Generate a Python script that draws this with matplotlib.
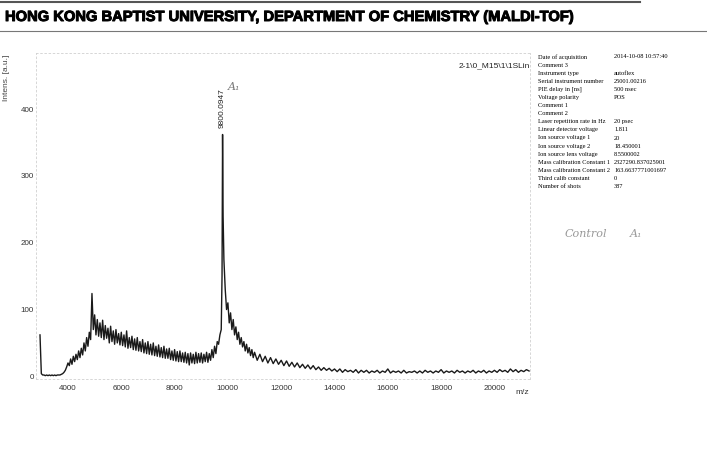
import numpy as np
import matplotlib
matplotlib.use("Agg")
import matplotlib.pyplot as plt
import matplotlib.patheffects as pe
from matplotlib.lines import Line2D

# spectrum (m/z, intensity a.u.)
mz_start = np.arange(2950, 3801, 50)
int_start = [62, 4, 2, 2, 1, 2, 1, 2, 1, 2, 1, 2, 1, 2, 2, 2, 3, 4]

mz_rise = np.arange(3850, 4951, 50)
int_rise = [6, 9, 14, 20, 16, 26, 18, 30, 22, 33, 25, 38, 28, 42, 32, 50, 38,
            58, 45, 66, 55, 124, 70]

mz_body = np.arange(5000, 9751, 50)
int_body = [92, 62, 85, 60, 80, 58, 84, 55, 76, 57,
            72, 50, 75, 52, 68, 48, 70, 50, 64, 47,
            66, 46, 62, 44, 68, 42, 58, 43, 60, 40,
            56, 39, 58, 38, 52, 37, 55, 35, 50, 34,
            52, 33, 48, 32, 50, 31, 45, 30, 47, 29,
            43, 28, 45, 27, 41, 27, 42, 25, 38, 24,
            40, 23, 37, 22, 38, 22, 35, 21, 36, 20,
            34, 17, 35, 20, 33, 19, 36, 20, 34, 21,
            35, 20, 33, 22, 36, 21, 34, 24, 40, 28,
            45, 34, 52, 48, 62, 70]

mz_peak = [9780, 9800, 9820]
int_peak = [150, 362, 240]

mz_tail = np.arange(9850, 11001, 50)
int_tail = [175, 130, 100, 110, 80, 95, 70, 85, 62, 74, 55, 66, 48, 58, 44,
            52, 38, 48, 35, 43, 31, 40, 28, 36]

mz_high = np.arange(11100, 21301, 100)
int_high = [24, 33, 22, 30, 20, 28, 19, 26, 18, 24,
            16, 23, 15, 21, 14, 20, 13, 18, 12, 17,
            11, 16, 10, 14, 9, 13, 9, 12, 8, 11,
            7, 11, 6, 10, 7, 9, 6, 10, 5, 9,
            6, 9, 5, 8, 6, 9, 5, 8, 6, 11,
            5, 8, 6, 8, 5, 9, 5, 7, 6, 8,
            5, 8, 5, 9, 6, 8, 5, 8, 6, 10,
            5, 8, 6, 8, 5, 9, 6, 8, 5, 8,
            6, 9, 5, 8, 6, 9, 5, 8, 6, 9,
            6, 10, 7, 9, 6, 11, 7, 10, 6, 9,
            7, 10, 8]

peak_label = "9800.0947"
x_ticks = [4000, 6000, 8000, 10000, 12000, 14000, 16000, 18000, 20000]
y_ticks = [0, 100, 200, 300, 400]

info_keys = ["Date of acquisition", "Comment 3", "Instrument type",
             "Serial instrument number", "PIE delay in [ns]", "Voltage polarity",
             "Comment 1", "Comment 2", "Laser repetition rate in Hz",
             "Linear detector voltage", "Ion source voltage 1",
             "Ion source voltage 2", "Ion source lens voltage",
             "Mass calibration Constant 1", "Mass calibration Constant 2",
             "Third calib constant", "Number of shots"]
info_vals = ["2014-10-08 10:57:40", "", "autoflex", "25001.00216", "500 nsec",
             "POS", "", "", "20 psec", "1.811", "20", "18.450001", "8.5500002",
             "2327290.837025901", "163.6637771001697", "0", "387"]

mz = np.concatenate([mz_start, mz_rise, mz_body, mz_peak, mz_tail, mz_high])
intens = np.concatenate([int_start, int_rise, int_body, int_peak, int_tail, int_high])

plt.rcParams["font.family"] = ["Liberation Sans", "DejaVu Sans"]

fig = plt.figure(figsize=(7.07, 4.53), dpi=100)
ax = fig.add_axes([36 / 707, 1 - 379 / 453, (530 - 36) / 707, (379 - 53) / 453])

ax.plot(mz, intens, color="#1a1a1a", lw=1.0)
ax.set_xlim(2800, 21335)
ax.set_ylim(-4, 484)
ax.set_xticks(x_ticks)
ax.set_yticks(y_ticks)
ax.tick_params(labelsize=5.8, length=0, colors="#333333")
ax.tick_params(axis="y", pad=1.5)
ax.tick_params(axis="x", pad=4)
for s in ax.spines.values():
    s.set_linestyle((0, (2, 3)))
    s.set_color("#d0d0d0")
    s.set_linewidth(0.6)

ax.text(9800, 372, peak_label, rotation=90, ha="center", va="bottom",
        fontsize=6, color="#222222")
fig.text(3 / 707, 1 - 55 / 453, "Intens. [a.u.]", rotation=90,
         ha="left", va="top", fontsize=6, color="#444444")
ax.text(1.0, 0.96, "2-1\\0_M15\\1\\1SLin", transform=ax.transAxes,
        ha="right", va="center", fontsize=6, color="#222222")
fig.text(522 / 707, 1 - 393 / 453, "m/z", ha="center", va="center",
         fontsize=6, color="#333333")

# handwritten notes on the printout
ax.text(10000, 428, "A₁", fontsize=8, color="#777777", style="italic",
        family="DejaVu Serif")
fig.text(565 / 707, 1 - 234 / 453, "Control", fontsize=8, color="#999999",
         style="italic", family="DejaVu Serif", va="center")
fig.text(630 / 707, 1 - 234 / 453, "A₁", fontsize=8, color="#999999",
         style="italic", family="DejaVu Serif", va="center")

# title with rules
fig.text(5 / 707, 1 - 17 / 453, "HONG KONG BAPTIST UNIVERSITY, DEPARTMENT OF CHEMISTRY (MALDI-TOF)",
         ha="left", va="center", fontsize=10.6, fontweight="bold", color="black",
         path_effects=[pe.withStroke(linewidth=0.7, foreground="black")])
fig.add_artist(Line2D([0, 640 / 707], [1 - 2 / 453] * 2, color="#555555", lw=1.5))
fig.add_artist(Line2D([0, 1], [1 - 31 / 453] * 2, color="#777777", lw=0.8))

# acquisition info block
for i, (k, v) in enumerate(zip(info_keys, info_vals)):
    yy = 1 - (57 + i * 8.1) / 453
    fig.text(538 / 707, yy, k, fontsize=4.6, family="Liberation Serif", va="center")
    fig.text(614 / 707, yy, v, fontsize=4.6, family="Liberation Serif", va="center")

fig.savefig("out.png", dpi=100)
